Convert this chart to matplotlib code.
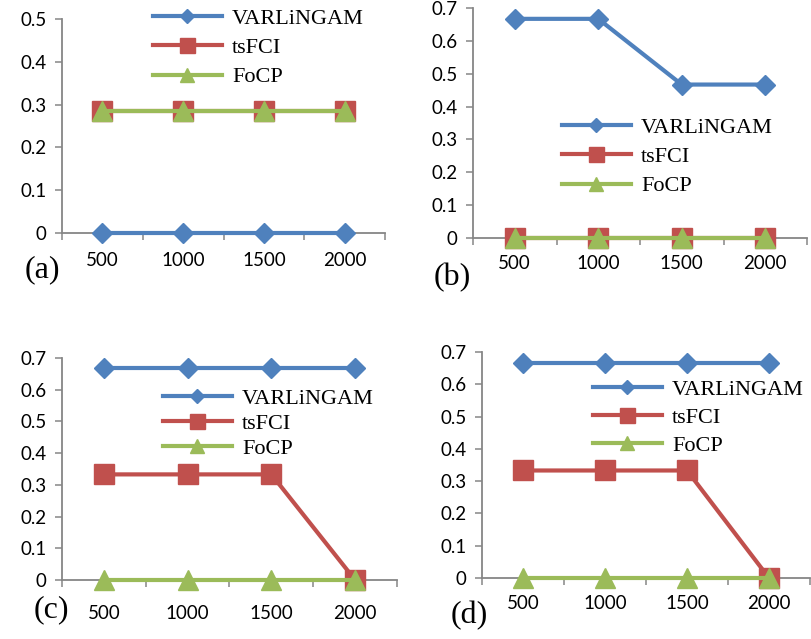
import matplotlib
matplotlib.use("Agg")
import matplotlib.pyplot as plt
from matplotlib.ticker import FuncFormatter

W, H = 811, 639
fig = plt.figure(figsize=(W / 100, H / 100), dpi=100)

c_blue = '#4F81BD'
c_red = '#C0504D'
c_green = '#9BBB59'
c_axis = '#868686'

x_labels = ['500', '1000', '1500', '2000']
series_names = ['VARLiNGAM', 'tsFCI', 'FoCP']

a_varlingam = [0, 0, 0, 0]
a_tsfci = [0.286, 0.286, 0.286, 0.286]
a_focp = [0.286, 0.286, 0.286, 0.286]

b_varlingam = [0.667, 0.667, 0.467, 0.467]
b_tsfci = [0, 0, 0, 0]
b_focp = [0, 0, 0, 0]

c_varlingam = [0.667, 0.667, 0.667, 0.667]
c_tsfci = [0.333, 0.333, 0.333, 0]
c_focp = [0, 0, 0, 0]

d_varlingam = [0.667, 0.667, 0.667, 0.667]
d_tsfci = [0.333, 0.333, 0.333, 0]
d_focp = [0, 0, 0, 0]

styles = [dict(color=c_blue, marker='D', ms=10),
          dict(color=c_red, marker='s', ms=15),
          dict(color=c_green, marker='^', ms=14)]


def fmt(v, pos):
    return '0' if abs(v) < 1e-9 else '%.1f' % v


def panel(box, data, ymax, letter, letter_xy, legend_xy, xpad, lspace=0.4):
    left, top, right, bottom = box
    ax = fig.add_axes([left / W, 1 - bottom / H, (right - left) / W, (bottom - top) / H])
    xs = range(len(x_labels))
    for vals, name, st in zip(data, series_names, styles):
        ax.plot(xs, vals, color=st['color'], lw=3, marker=st['marker'], ms=st['ms'],
                mec=st['color'], label=name, clip_on=False, zorder=3)
    ax.set_xlim(-0.5, 3.5)
    ax.set_ylim(0, ymax)
    ax.set_yticks([i / 10 for i in range(int(round(ymax * 10)) + 1)])
    ax.yaxis.set_major_formatter(FuncFormatter(fmt))
    ax.set_xticks(list(xs))
    ax.set_xticklabels(x_labels)
    ax.set_xticks([-0.5, 0.5, 1.5, 2.5, 3.5], minor=True)
    ax.tick_params(axis='x', which='major', length=0, pad=xpad)
    ax.tick_params(axis='x', which='minor', length=5, width=1.1, color=c_axis, direction='out')
    ax.tick_params(axis='y', length=5, width=1.1, color=c_axis, direction='out', pad=6)
    for lab in ax.get_xticklabels() + ax.get_yticklabels():
        lab.set_fontfamily('Lato')
        lab.set_fontsize(13.5)
        lab.set_color('black')
    for s in ['top', 'right']:
        ax.spines[s].set_visible(False)
    for s in ['left', 'bottom']:
        ax.spines[s].set_color(c_axis)
        ax.spines[s].set_linewidth(1.3)
    ax.patch.set_alpha(0)
    lx, ly = legend_xy
    ax.legend(loc='upper left', bbox_to_anchor=(lx / W, 1 - ly / H), bbox_transform=fig.transFigure,
              frameon=False, borderpad=0, borderaxespad=0, handlelength=3.1, handletextpad=0.45,
              labelspacing=lspace, markerscale=0.72, prop={'family': 'Liberation Serif', 'size': 16})
    fig.text(letter_xy[0] / W, 1 - letter_xy[1] / H, letter, family='Liberation Serif',
             fontsize=23, va='center', ha='left')
    return ax


panel((62, 19, 385, 233), [a_varlingam, a_tsfci, a_focp], 0.5, '(a)', (25, 270), (153, 8), 14)
panel((473, 8, 807, 238), [b_varlingam, b_tsfci, b_focp], 0.7, '(b)', (434, 278), (562, 117), 12)
panel((62, 358, 397, 580), [c_varlingam, c_tsfci, c_focp], 0.7, '(c)', (34, 610), (163, 388), 18, 0.2)
panel((482, 352, 810, 578), [d_varlingam, d_tsfci, d_focp], 0.7, '(d)', (451, 616), (593, 379), 12, 0.35)

fig.savefig('out.png', dpi=100)
